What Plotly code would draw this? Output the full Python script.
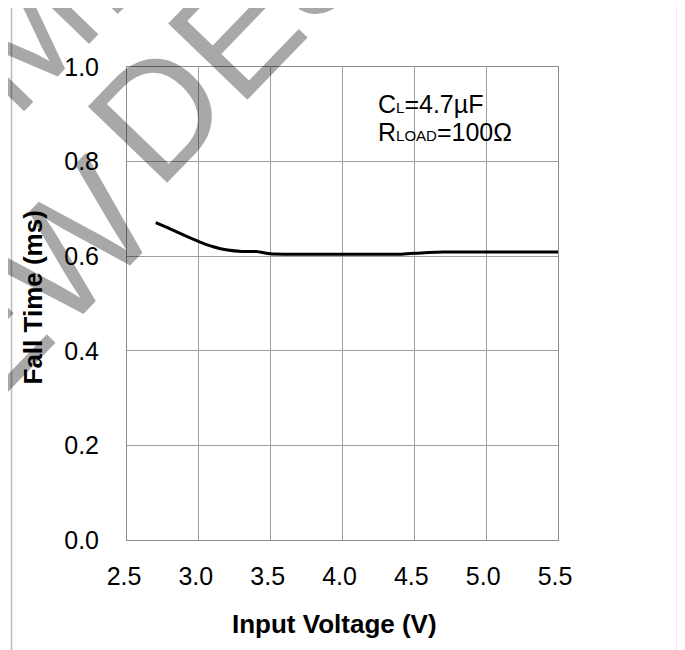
import plotly.graph_objects as go

# ---- data ----
input_voltage = [2.7, 2.8, 2.9, 3.0, 3.1, 3.2, 3.3, 3.4, 3.5, 3.6, 3.7, 3.8, 3.9, 4.0,
                 4.1, 4.2, 4.3, 4.4, 4.5, 4.6, 4.7, 4.8, 4.9, 5.0, 5.1, 5.2, 5.3, 5.4, 5.5]
fall_time_ms = [0.671, 0.658, 0.644, 0.631, 0.620, 0.613, 0.610, 0.610, 0.605, 0.604, 0.604,
                0.604, 0.604, 0.604, 0.604, 0.604, 0.604, 0.604, 0.606, 0.608, 0.609, 0.609,
                0.609, 0.609, 0.609, 0.609, 0.609, 0.609, 0.609]
x_ticks = [2.5, 3.0, 3.5, 4.0, 4.5, 5.0, 5.5]
y_ticks = [0.0, 0.2, 0.4, 0.6, 0.8, 1.0]

# the page body has an 8px margin: design in window pixels, shift by OFF
OFF = 8
W, H = 685 - OFF, 650 - OFF
# plot area in window pixels: x 127..558, y 67..540
ML = 127 - OFF
MT = 67 - OFF
MR = W - (558 - OFF)
MB = H - (540 - OFF)
PW, PH = W - ML - MR, H - MT - MB
FONT = "Liberation Sans, Arial, sans-serif"


def px(x):
    """window pixel x -> paper x"""
    return (x - OFF - ML) / PW


def py(y):
    """window pixel y -> paper y"""
    return (H - MB - (y - OFF)) / PH


fig = go.Figure()
fig.add_trace(go.Scatter(
    x=input_voltage, y=fall_time_ms, mode="lines",
    line=dict(color="black", width=3, shape="spline", smoothing=0.6),
    showlegend=False, hoverinfo="skip"))

axis_common = dict(
    showgrid=True, gridcolor="#a0a0a0", gridwidth=1,
    showline=True, linecolor="#8c8c8c", linewidth=1, mirror=True,
    zeroline=False, ticks="",
    tickfont=dict(family=FONT, size=25, color="black"),
)
fig.update_xaxes(range=[2.5, 5.5], tickvals=x_ticks,
                 ticktext=[f"{v:.1f}" for v in x_ticks],
                 ticklabelstandoff=14, ticklabelshift=-3, **axis_common)
fig.update_yaxes(range=[0, 1.0], tickvals=y_ticks,
                 ticktext=[f"{v:.1f}" for v in y_ticks],
                 ticklabelstandoff=22, **axis_common)

shapes = [
    # outer frame of the figure picture
    dict(type="rect", xref="paper", yref="paper",
         x0=px(11.5), x1=px(677.5), y0=py(670), y1=py(5),
         line=dict(color="#bdbdbd", width=1.6), fillcolor="rgba(0,0,0,0)", layer="above"),
    # white box behind the condition legend
    dict(type="rect", xref="paper", yref="paper",
         x0=px(372), x1=px(548), y0=py(155), y1=py(87),
         line=dict(width=0), fillcolor="white", layer="between"),
]

WM_FONT = dict(family=FONT, size=160, color="rgba(0,0,0,0.34)")
annotations = [
    dict(text="<b>Input Voltage (V)</b>", xref="paper", yref="paper",
         x=px(334.5), y=py(624), xanchor="center", yanchor="middle", showarrow=False,
         font=dict(family=FONT, size=26, color="black")),
    dict(text="<b>Fall Time (ms)</b>", xref="paper", yref="paper",
         x=px(32.5), y=py(298), xanchor="center", yanchor="middle", showarrow=False,
         textangle=-90, font=dict(family=FONT, size=26, color="black")),
    dict(text="C<span style='font-size:15px'>L</span>=4.7µF", xref="paper", yref="paper",
         x=px(377), y=py(104), xanchor="left", yanchor="middle", showarrow=False,
         borderpad=0, font=dict(family=FONT, size=25, color="black")),
    dict(text="R<span style='font-size:15px'>LOAD</span>=100Ω", xref="paper", yref="paper",
         x=px(377), y=py(131.5), xanchor="left", yanchor="middle", showarrow=False,
         borderpad=0, font=dict(family=FONT, size=25, color="black")),
    # diagonal watermark
    dict(text="PRELIMINARY", xref="paper", yref="paper",
         x=px(30), y=py(26), xanchor="center", yanchor="middle", showarrow=False,
         textangle=-46, font=WM_FONT),
    dict(text="NEW", xref="paper", yref="paper",
         x=px(-5), y=py(325), xanchor="center", yanchor="middle", showarrow=False,
         textangle=-46, font=WM_FONT),
    dict(text="DESIGN", xref="paper", yref="paper",
         x=px(331), y=py(-66), xanchor="center", yanchor="middle", showarrow=False,
         textangle=-46, font=WM_FONT),
]

fig.update_layout(
    width=W, height=H, margin=dict(l=ML, r=MR, t=MT, b=MB, autoexpand=False),
    paper_bgcolor="white", plot_bgcolor="white",
    shapes=shapes, annotations=annotations,
)

fig.write_html("out.html")
